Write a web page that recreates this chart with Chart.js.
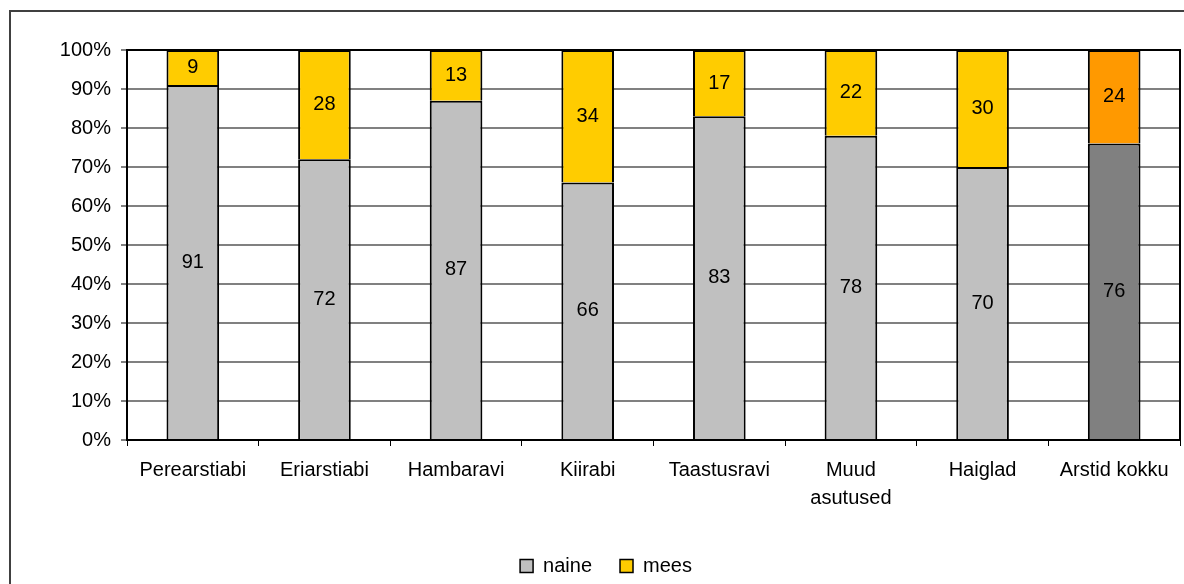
<!DOCTYPE html>
<html>
<head>
<meta charset="utf-8">
<script src="https://cdn.jsdelivr.net/npm/chart.js@4.4.0/dist/chart.umd.min.js"></script>
<style>
html, body { margin: 0; padding: 0; background: #fff; overflow: hidden; }
#wrap { position: relative; width: 1184px; height: 584px; }
#frame { position: absolute; left: 9px; top: 10px; width: 1300px; height: 700px; border: 2px solid #404040; }
canvas { position: absolute; left: 0; top: 0; }
</style>
</head>
<body>
<div id="wrap">
	<div id="frame"></div>
	<canvas id="chart" width="1184" height="584"></canvas>
</div>
<script>
// --- Data ---
const categories = ['Perearstiabi', 'Eriarstiabi', 'Hambaravi', 'Kiirabi', 'Taastusravi', ['Muud', 'asutused'], 'Haiglad', 'Arstid kokku'];
const naine = [91, 72, 87, 66, 83, 78, 70, 76];
const mees = [9, 28, 13, 34, 17, 22, 30, 24];
const seriesNames = ['naine', 'mees'];

// last bar (total) is highlighted with darker colours
const lastIdx = categories.length - 1;
const naineColors = categories.map((c, i) => i === lastIdx ? '#808080' : '#C0C0C0');
const meesColors = categories.map((c, i) => i === lastIdx ? '#FF9900' : '#FFCC00');

const FONT = "'Liberation Sans', Arial, sans-serif";
const FSIZE = 20;

// --- Plot frame + value labels ---
const plotFrame = {
	id: 'plotFrame',
	afterDatasetsDraw(chart) {
		const { ctx, chartArea: a } = chart;
		ctx.save();
		ctx.strokeStyle = '#000';
		ctx.lineWidth = 2;
		ctx.beginPath();
		ctx.moveTo(a.left, a.top);
		ctx.lineTo(a.right, a.top);
		ctx.lineTo(a.right, a.bottom);
		ctx.stroke();

		ctx.fillStyle = '#000';
		ctx.font = FSIZE + 'px ' + FONT;
		ctx.textAlign = 'center';
		ctx.textBaseline = 'middle';
		chart.data.datasets.forEach((ds, di) => {
			chart.getDatasetMeta(di).data.forEach((bar, i) => {
				const mid = (bar.y + bar.base) / 2;
				ctx.fillText(String(ds.data[i]), bar.x, mid);
			});
		});
		ctx.restore();
	}
};

new Chart(document.getElementById('chart'), {
	type: 'bar',
	data: {
		labels: categories,
		datasets: [
			{ label: seriesNames[0], data: naine, backgroundColor: naineColors, borderColor: '#000', borderWidth: 2 },
			{ label: seriesNames[1], data: mees, backgroundColor: meesColors, borderColor: '#000', borderWidth: 2 }
		]
	},
	options: {
		responsive: false,
		animation: false,
		layout: { padding: { top: 50, right: 4, left: 32, bottom: -2 } },
		datasets: { bar: { barPercentage: 0.8, categoryPercentage: 0.5 } },
		plugins: {
			tooltip: { enabled: false },
			legend: {
				position: 'bottom',
				labels: {
					color: '#000',
					font: { family: FONT, size: FSIZE },
					boxWidth: 13,
					boxHeight: 13,
					padding: 28,
					generateLabels: () => [
						{ text: seriesNames[0], fillStyle: '#C0C0C0', strokeStyle: '#000', lineWidth: 1.5, datasetIndex: 0, hidden: false },
						{ text: seriesNames[1], fillStyle: '#FFCC00', strokeStyle: '#000', lineWidth: 1.5, datasetIndex: 1, hidden: false }
					]
				}
			}
		},
		scales: {
			x: {
				stacked: true,
				afterFit: (scale) => { scale.height = 88; },
				grid: { display: true, drawOnChartArea: false, offset: true, tickLength: 6, color: '#000', lineWidth: 1 },
				border: { color: '#000', width: 2 },
				ticks: { color: '#000', font: { family: FONT, size: FSIZE, lineHeight: 1.4 }, padding: 10, maxRotation: 0, autoSkip: false }
			},
			y: {
				stacked: true,
				min: 0,
				max: 100,
				afterFit: (scale) => { scale.width = 95; },
				grid: { color: '#808080', lineWidth: 2, tickLength: 6 },
				border: { color: '#000', width: 2 },
				ticks: { stepSize: 10, color: '#000', font: { family: FONT, size: FSIZE }, padding: 10, callback: (v) => v + '%' }
			}
		}
	},
	plugins: [plotFrame]
});
</script>
</body>
</html>
